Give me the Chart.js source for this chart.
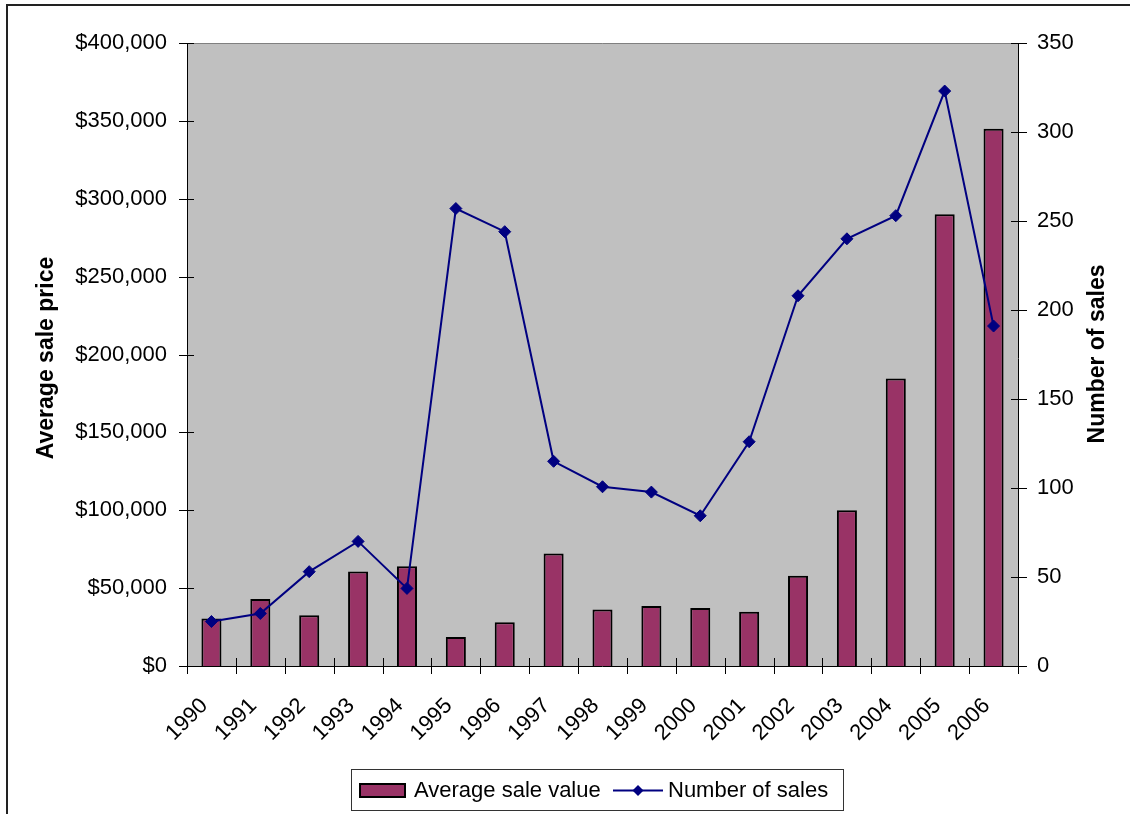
<!DOCTYPE html>
<html>
<head>
<meta charset="utf-8">
<title>Average sale price and number of sales, 1990–2006</title>
<script src="https://cdn.jsdelivr.net/npm/chart.js@4/dist/chart.umd.min.js"></script>
<style>
  html, body { margin: 0; padding: 0; background: #ffffff; }
  #wrap { width: 1130px; height: 814px; position: relative; overflow: hidden; }
  canvas { display: block; }
</style>
</head>
<body>
<div id="wrap"><canvas id="chart" width="1130" height="814"></canvas></div>
<script>
// ---- data ----
const years = ['1990','1991','1992','1993','1994','1995','1996','1997','1998',
               '1999','2000','2001','2002','2003','2004','2005','2006'];
const averageSaleValue = [30500, 43000, 32600, 60700, 64000, 18600, 28100, 72200, 36200,
                          38600, 37300, 34900, 58000, 100000, 184600, 290000, 345000];
const numberOfSales = [25, 29.5, 53, 70, 43.6, 257, 244, 115, 100.7,
                       97.7, 84.4, 126, 208, 240, 253, 323, 191];
const priceTicks = [0, 50000, 100000, 150000, 200000, 250000, 300000, 350000, 400000];
const salesTicks = [0, 50, 100, 150, 200, 250, 300, 350];
const seriesNames = ['Average sale value', 'Number of sales'];
const axisTitles = { left: 'Average sale price', right: 'Number of sales' };

// ---- styling ----
const FONT = '"Liberation Sans", Arial, Helvetica, sans-serif';
const BAR_FILL = '#993366';
const LINE_COLOR = '#000080';
const PLOT_BG = '#C0C0C0';

function money(v) {
  const s = String(Math.round(v));
  return '$' + s.replace(/\B(?=(\d{3})+(?!\d))/g, ',');
}

// Grey plot background, outer frame, axis lines, cross tick marks, titles and legend
const decorations = {
  id: 'decorations',
  beforeDraw(chart) {
    const { ctx, chartArea: a } = chart;
    ctx.save();
    ctx.fillStyle = '#ffffff';
    ctx.fillRect(0, 0, chart.width, chart.height);
    ctx.fillStyle = PLOT_BG;
    ctx.fillRect(a.left, a.top, a.right - a.left, a.bottom - a.top);
    // outer chart frame (runs past the right and bottom edges)
    ctx.strokeStyle = '#222222';
    ctx.lineWidth = 2;
    ctx.strokeRect(7, 5, chart.width + 50, chart.height + 50);
    ctx.restore();
  },
  afterDraw(chart) {
    const { ctx, chartArea: a, scales } = chart;
    ctx.save();
    // plot top border
    ctx.strokeStyle = '#808080';
    ctx.lineWidth = 1;
    ctx.beginPath();
    ctx.moveTo(a.left, a.top + 0.5);
    ctx.lineTo(a.right, a.top + 0.5);
    ctx.stroke();

    // axis lines
    ctx.strokeStyle = '#000000';
    ctx.beginPath();
    ctx.moveTo(a.left + 0.5, a.top);
    ctx.lineTo(a.left + 0.5, a.bottom);
    ctx.moveTo(a.right + 0.5, a.top);
    ctx.lineTo(a.right + 0.5, a.bottom + 8);
    ctx.moveTo(a.left - 8, a.bottom + 0.5);
    ctx.lineTo(a.right + 8, a.bottom + 0.5);
    ctx.stroke();

    // cross tick marks on both value axes
    ctx.beginPath();
    scales.y.ticks.forEach((t, i) => {
      const py = Math.round(scales.y.getPixelForTick(i)) + 0.5;
      ctx.moveTo(a.left - 8, py);
      ctx.lineTo(a.left + 7, py);
    });
    scales.y1.ticks.forEach((t, i) => {
      const py = Math.round(scales.y1.getPixelForTick(i)) + 0.5;
      ctx.moveTo(a.right - 7, py);
      ctx.lineTo(a.right + 9, py);
    });
    // category boundary ticks on the x axis
    for (let i = 0; i <= years.length; i++) {
      const px = Math.round(scales.x.getPixelForValue(i - 0.5)) + 0.5;
      ctx.moveTo(px, a.bottom - 8);
      ctx.lineTo(px, a.bottom + 8);
    }
    ctx.stroke();

    // axis titles, both reading bottom-to-top
    ctx.fillStyle = '#000000';
    ctx.font = 'bold 23px ' + FONT;
    ctx.textAlign = 'center';
    ctx.textBaseline = 'middle';
    ctx.save();
    ctx.translate(47, 358);
    ctx.rotate(-Math.PI / 2);
    ctx.fillText(axisTitles.left, 0, 0);
    ctx.restore();
    ctx.save();
    ctx.translate(1098, 354);
    ctx.rotate(-Math.PI / 2);
    ctx.fillText(axisTitles.right, 0, 0);
    ctx.restore();

    // legend
    const barDs = chart.data.datasets[1];
    const lineDs = chart.data.datasets[0];
    ctx.fillStyle = '#ffffff';
    ctx.fillRect(351, 769, 492, 41);
    ctx.strokeStyle = '#333333';
    ctx.lineWidth = 1;
    ctx.strokeRect(351.5, 769.5, 492, 41);

    ctx.fillStyle = barDs.backgroundColor;
    ctx.fillRect(360, 784, 45, 13);
    ctx.strokeStyle = '#000000';
    ctx.lineWidth = 2;
    ctx.strokeRect(360, 784, 45, 13);

    ctx.font = '22px ' + FONT;
    ctx.textAlign = 'left';
    ctx.textBaseline = 'middle';
    ctx.fillStyle = '#000000';
    ctx.fillText(barDs.label, 414, 791);

    ctx.strokeStyle = lineDs.borderColor;
    ctx.lineWidth = 2;
    ctx.beginPath();
    ctx.moveTo(613, 790.5);
    ctx.lineTo(663, 790.5);
    ctx.stroke();
    ctx.fillStyle = lineDs.borderColor;
    ctx.beginPath();
    ctx.moveTo(638, 785);
    ctx.lineTo(643.5, 790.5);
    ctx.lineTo(638, 796);
    ctx.lineTo(632.5, 790.5);
    ctx.closePath();
    ctx.fill();
    ctx.fillStyle = '#000000';
    ctx.fillText(lineDs.label, 668, 791);
    ctx.restore();
  }
};

new Chart(document.getElementById('chart'), {
  data: {
    labels: years,
    datasets: [
      {
        type: 'line',
        label: seriesNames[1],
        data: numberOfSales,
        yAxisID: 'y1',
        order: 0,
        borderColor: LINE_COLOR,
        backgroundColor: LINE_COLOR,
        borderWidth: 2,
        tension: 0,
        pointStyle: 'rectRot',
        pointRadius: 6,
        pointBorderWidth: 1,
        pointBackgroundColor: LINE_COLOR,
        pointBorderColor: LINE_COLOR
      },
      {
        type: 'bar',
        label: seriesNames[0],
        data: averageSaleValue,
        yAxisID: 'y',
        order: 1,
        backgroundColor: BAR_FILL,
        borderColor: '#000000',
        borderWidth: 2,
        barPercentage: 0.41,
        categoryPercentage: 1.0
      }
    ]
  },
  options: {
    responsive: false,
    devicePixelRatio: 1,
    animation: false,
    layout: { padding: { top: 43, left: 0, right: 0, bottom: 0 } },
    plugins: {
      legend: { display: false },
      tooltip: { enabled: false },
      title: { display: false }
    },
    scales: {
      x: {
        type: 'category',
        offset: true,
        grid: { display: false, drawTicks: false, offset: true },
        border: { display: false },
        ticks: {
          autoSkip: false,
          minRotation: 45,
          maxRotation: 45,
          padding: 27,
          labelOffset: -7,
          color: '#000000',
          font: { family: FONT, size: 22 }
        },
        afterFit(scale) { scale.height = 148; }
      },
      y: {
        type: 'linear',
        position: 'left',
        min: priceTicks[0],
        max: priceTicks[priceTicks.length - 1],
        grid: { display: false, drawTicks: false },
        border: { display: false },
        afterBuildTicks(scale) { scale.ticks = priceTicks.map(v => ({ value: v })); },
        ticks: {
          padding: 20,
          color: '#000000',
          font: { family: FONT, size: 22 },
          callback: v => money(v)
        },
        afterFit(scale) { scale.width = 187; }
      },
      y1: {
        type: 'linear',
        position: 'right',
        min: salesTicks[0],
        max: salesTicks[salesTicks.length - 1],
        grid: { display: false, drawTicks: false },
        border: { display: false },
        afterBuildTicks(scale) { scale.ticks = salesTicks.map(v => ({ value: v })); },
        ticks: {
          padding: 19,
          color: '#000000',
          font: { family: FONT, size: 22 },
          callback: v => String(v)
        },
        afterFit(scale) { scale.width = 112; }
      }
    }
  },
  plugins: [decorations]
});
</script>
</body>
</html>
